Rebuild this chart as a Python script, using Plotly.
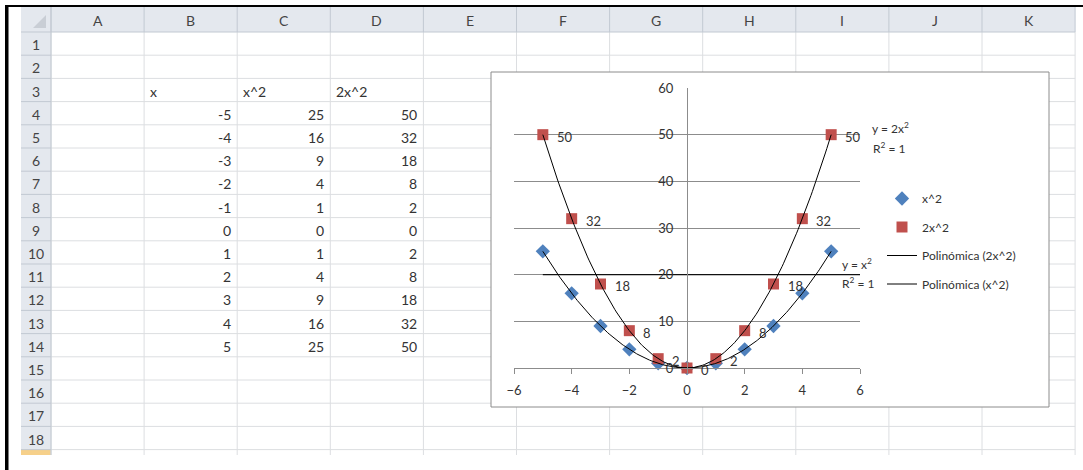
import numpy as np
import plotly.graph_objects as go

W, H = 1083, 470

# ---------------- data ----------------
x_vals = [-5, -4, -3, -2, -1, 0, 1, 2, 3, 4, 5]
x2_vals = [25, 16, 9, 4, 1, 0, 1, 4, 9, 16, 25]
two_x2_vals = [50, 32, 18, 8, 2, 0, 2, 8, 18, 32, 50]
table_headers = ["x", "x^2", "2x^2"]
col_letters = ["A", "B", "C", "D", "E", "F", "G", "H", "I", "J", "K"]
row_numbers = list(range(1, 19))
x_ticks = [-6, -4, -2, 0, 2, 4, 6]
y_ticks = [0, 10, 20, 30, 40, 50, 60]
series_names = ["x^2", "2x^2"]
trend_names = ["Polinómica (2x^2)", "Polinómica (x^2)"]
trend_labels = ["y = 2x<sup>2</sup>", "y = x<sup>2</sup>"]
r2_label = "R<sup>2</sup> = 1"
dark_line_x = [-5, 6]
dark_line_y = [20, 20]

# ---------------- geometry (pixels) ----------------
def X(p):
    return p / W

def Y(p):
    return 1 - p / H

COL_LEFT = 51
COL_W = 93.1
N_COLS = len(col_letters)
COL_RIGHT = COL_LEFT + COL_W * N_COLS
HDR_TOP, HDR_BOT = 7, 32
ROW_H = 23.2
GRID_BOT = 455
RH_LEFT = 21
N_ROWS = len(row_numbers)

FONT = "Lato, 'Open Sans', sans-serif"
HDR_BG = "#E4E8EE"
HDR_LINE = "#C2C9D2"
CELL_LINE = "#DCDEE1"
TXT = "#333333"

shapes = []
def rect(x0, y0, x1, y1, fill, line=None, lw=0):
    shapes.append(dict(type="rect", xref="paper", yref="paper",
                       x0=X(x0), x1=X(x1), y0=Y(y1), y1=Y(y0),
                       fillcolor=fill, line=dict(color=line or fill, width=lw),
                       layer="below"))

def line(x0, y0, x1, y1, color, w=1):
    shapes.append(dict(type="line", xref="paper", yref="paper",
                       x0=X(x0), x1=X(x1), y0=Y(y0), y1=Y(y1),
                       line=dict(color=color, width=w), layer="below"))

# headers background
rect(RH_LEFT, HDR_TOP, COL_RIGHT, HDR_BOT, HDR_BG)
rect(RH_LEFT, HDR_BOT, COL_LEFT, GRID_BOT, HDR_BG)
rect(RH_LEFT, HDR_BOT + ROW_H * N_ROWS, COL_LEFT, GRID_BOT, "#F6D08A")

# corner triangle
shapes.append(dict(type="path", xref="paper", yref="paper",
                   path=f"M {X(33)} {Y(28)} L {X(46)} {Y(28)} L {X(46)} {Y(15)} Z",
                   fillcolor="#C9CED5", line=dict(width=0), layer="below"))

# cell grid
for i in range(N_COLS + 1):
    cx = COL_LEFT + COL_W * i
    line(cx, HDR_BOT, cx, GRID_BOT, CELL_LINE)
    line(cx, HDR_TOP, cx, HDR_BOT, HDR_LINE)
for r in range(1, N_ROWS + 1):
    ry = HDR_BOT + ROW_H * r
    line(COL_LEFT, ry, COL_RIGHT, ry, CELL_LINE)
    line(RH_LEFT, ry, COL_LEFT, ry, HDR_LINE)
line(RH_LEFT, HDR_BOT, COL_RIGHT, HDR_BOT, HDR_LINE)
line(COL_LEFT, HDR_TOP, COL_LEFT, GRID_BOT, HDR_LINE)

# black frame of the screenshot
rect(5, 5, 8.5, H, "#000000")
rect(5, 5, W, 7, "#000000")

# chart box
rect(491, 72, 1049, 407, "#FFFFFF", line="#8C8C8C", lw=1)

# ---------------- annotations ----------------
annotations = []
def txt(x, y, s, anchor="center", size=14, color=TXT):
    annotations.append(dict(x=X(x), y=Y(y), xref="paper", yref="paper", text=s,
                            showarrow=False, xanchor=anchor, yanchor="middle",
                            font=dict(family=FONT, size=size, color=color)))

for i, c in enumerate(col_letters):
    txt(COL_LEFT + COL_W * (i + 0.5), (HDR_TOP + HDR_BOT) / 2 + 1, c, size=14, color="#444444")
for r in row_numbers:
    txt((RH_LEFT + COL_LEFT) / 2, HDR_BOT + ROW_H * (r - 0.5) + 1, str(r), size=14, color="#444444")

# table: header in row 3, cols B,C,D ; values rows 4..14
cols_data = [x_vals, x2_vals, two_x2_vals]
for j, head in enumerate(table_headers):
    left = COL_LEFT + COL_W * (j + 1)
    txt(left + 4, HDR_BOT + ROW_H * 2.5 + 1, head, anchor="left")
    for k, v in enumerate(cols_data[j]):
        txt(left + COL_W - 4, HDR_BOT + ROW_H * (3 + k + 0.5) + 1, str(v), anchor="right")

# trendline equations
txt(890, 128, trend_labels[0], size=12)
txt(889, 148, r2_label, size=12)
txt(857, 264, trend_labels[1], size=12)
txt(858, 283, r2_label, size=12)

# data labels of the 2x^2 series (placed right of each marker)
for xv, yv in zip(x_vals, two_x2_vals):
    annotations.append(dict(x=xv, y=yv, xref="x", yref="y", text=str(yv),
                            showarrow=False, xanchor="left", yanchor="middle",
                            xshift=12, yshift=-2,
                            font=dict(family=FONT, size=13, color="#333333")))

# ---------------- traces ----------------
fig = go.Figure()

# dark horizontal line seen at y=20
fig.add_trace(go.Scatter(x=dark_line_x, y=dark_line_y, mode="lines",
                         line=dict(color="#111111", width=1.3), showlegend=False,
                         hoverinfo="skip"))

fig.add_trace(go.Scatter(x=x_vals, y=x2_vals, mode="markers", name=series_names[0],
                         marker=dict(symbol="diamond", size=11, color="#4F81BD"),
                         cliponaxis=False, legendrank=1))
fig.add_trace(go.Scatter(x=x_vals, y=two_x2_vals, mode="markers", name=series_names[1],
                         marker=dict(symbol="square", size=11, color="#C0504D"),
                         cliponaxis=False, legendrank=2))

xs = np.linspace(min(x_vals), max(x_vals), 201)
c2 = np.polyfit(x_vals, two_x2_vals, 2)
c1 = np.polyfit(x_vals, x2_vals, 2)
fig.add_trace(go.Scatter(x=xs, y=np.polyval(c2, xs), mode="lines", name=trend_names[0],
                         line=dict(color="#000000", width=1), cliponaxis=False, legendrank=3))
fig.add_trace(go.Scatter(x=xs, y=np.polyval(c1, xs), mode="lines", name=trend_names[1],
                         line=dict(color="#000000", width=1), cliponaxis=False, legendrank=4))

fig.update_layout(
    width=W, height=H, margin=dict(l=0, r=0, t=0, b=0, pad=0, autoexpand=False),
    paper_bgcolor="#FFFFFF", plot_bgcolor="rgba(0,0,0,0)",
    shapes=shapes, annotations=annotations,
    font=dict(family=FONT, color="#333333"),
    xaxis=dict(domain=[X(514), X(860)], range=[-6, 6], tickvals=x_ticks,
               showgrid=False, zeroline=False, showline=True, linecolor="#8C8C8C",
               ticks="outside", ticklen=5, tickcolor="#8C8C8C", ticklabelstandoff=5,
               tickfont=dict(family=FONT, size=13, color="#333333"),
               anchor="y", fixedrange=True),
    yaxis=dict(domain=[Y(368), Y(88)], range=[0, 60], tickvals=y_ticks,
               showgrid=True, gridcolor="#8C8C8C", gridwidth=1, zeroline=False,
               showline=True, linecolor="#8C8C8C", ticks="", anchor="free",
               position=X(687), ticklabelstandoff=11,
               tickfont=dict(family=FONT, size=13, color="#333333"), fixedrange=True),
    legend=dict(x=X(882), y=Y(184), xanchor="left", yanchor="top",
                bgcolor="rgba(0,0,0,0)", font=dict(family=FONT, size=12, color="#333333"),
                tracegroupgap=9.5, traceorder="grouped"),
    showlegend=True,
)
for i, tr in enumerate(fig.data):
    tr.legendgroup = f"g{i}"

fig.write_html("out.html", config={"displayModeBar": False},
               post_script="document.body.style.margin='0';document.body.style.overflow='hidden';")
